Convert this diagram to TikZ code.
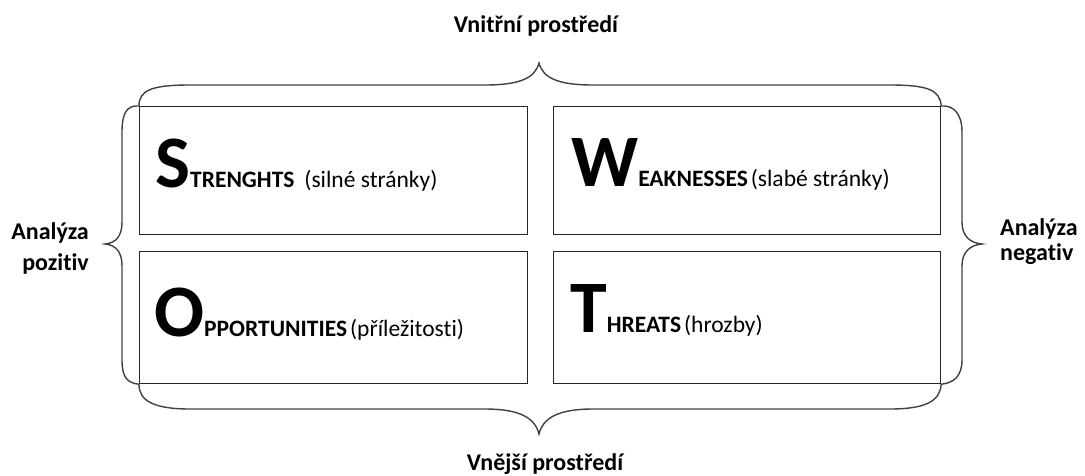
\documentclass[tikz,border=0pt]{standalone}
\usepackage{fontspec}
\setmainfont{Carlito}[Ligatures=NoCommon]
\newcommand\swotbig[1]{{\fontsize{74}{74}\selectfont\bfseries #1}}
\newcommand\swotcap[1]{{\fontsize{23.5}{28}\selectfont\bfseries #1}}
\newcommand\swotcz[1]{{\fontsize{23.5}{28}\selectfont #1}}
\begin{document}
\begin{tikzpicture}[x=1pt,y=-1pt,
  box/.style={draw=black!85, line width=1.2pt, inner sep=0, anchor=north west},
  brace/.style={draw=black!75, line width=1.4pt},
  lbl/.style={font=\fontsize{24}{24}\selectfont\bfseries, inner sep=0},
  txt/.style={anchor=base west, inner sep=0}]
\useasboundingbox (0,0) rectangle (1085,475);
% boxes
\node[box, minimum width=388pt, minimum height=128pt] (sbox) at (139,106) {};
\node[box, minimum width=387pt, minimum height=128pt] (wbox) at (553,106) {};
\node[box, minimum width=388pt, minimum height=132pt] (obox) at (139,251) {};
\node[box, minimum width=387pt, minimum height=132pt] (tbox) at (553,251) {};
% texts in boxes
\node[txt] (stxt) at (155,187) {\swotbig{S}\swotcap{TRENGHTS}\hspace{10pt}\swotcz{(silné stránky)}};
\node[txt] (wtxt) at (571,186) {\swotbig{W}\swotcap{EAKNESSES}\hspace{3pt}\swotcz{(slabé stránky)}};
\node[txt] (otxt) at (154,336) {\swotbig{O}\swotcap{PPORTUNITIES}\hspace{3pt}\swotcz{(příležitosti)}};
\node[txt] (ttxt) at (570,332) {\swotbig{T}\swotcap{HREATS}\hspace{3pt}\swotcz{(hrozby)}};
% braces
\draw[brace] (sbox.north west) .. controls (139,90) and (152,85) .. (190,85) -- (485,85)
  .. controls (520,85) and (535,78) .. (539,63)
  .. controls (543,78) and (558,85) .. (593,85) -- (890,85)
  .. controls (928,85) and (940,90) .. (wbox.north east);
\draw[brace] (obox.south west) .. controls (139,400) and (152,409) .. (190,409) -- (485,409)
  .. controls (520,409) and (535,418) .. (539,434)
  .. controls (543,418) and (558,409) .. (593,409) -- (890,409)
  .. controls (928,409) and (940,400) .. (tbox.south east);
\draw[brace] (sbox.north west) .. controls (127,105) and (122,113) .. (122,132) -- (122,222)
  .. controls (122,236) and (116,243) .. (105,244)
  .. controls (116,245) and (122,252) .. (122,266) -- (122,360)
  .. controls (122,377) and (127,383) .. (obox.south west);
\draw[brace] (wbox.north east) .. controls (953,105) and (962,113) .. (962,132) -- (962,222)
  .. controls (962,236) and (970,243) .. (982,244)
  .. controls (970,245) and (962,252) .. (962,266) -- (962,360)
  .. controls (962,377) and (953,383) .. (tbox.south east);
% labels
\node[lbl, anchor=base] (top) at (536,32) {Vnitřní prostředí};
\node[lbl, anchor=base] (bot) at (545,470) {Vnější prostředí};
\node[lbl, anchor=base east, align=right] (left1) at (89,239) {Analýza};
\node[lbl, anchor=base east, align=right] (left2) at (89,270) {pozitiv};
\node[lbl, anchor=base west] (right1) at (1000,235) {Analýza};
\node[lbl, anchor=base west] (right2) at (1000,260) {negativ};
\end{tikzpicture}
\end{document}
